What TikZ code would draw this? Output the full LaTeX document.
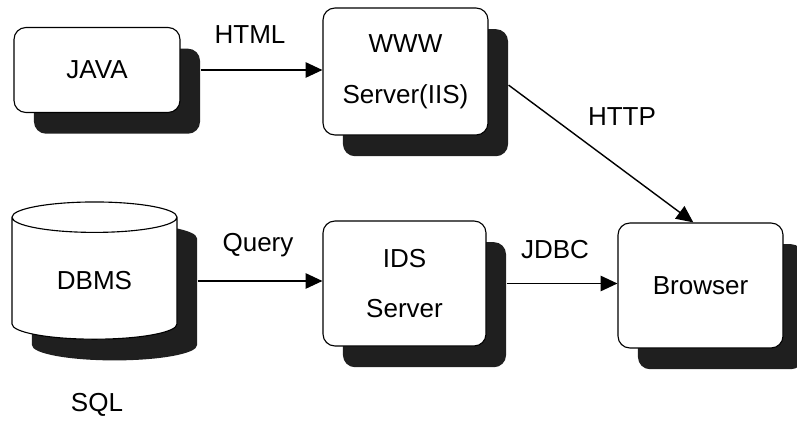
\documentclass[tikz,border=0pt]{standalone}
\usepackage{fontspec}
\setmainfont{Liberation Sans}
\usetikzlibrary{shapes.geometric,shadows,arrows.meta}
\tikzset{
  shade/.style={drop shadow={shadow xshift=0.5cm,shadow yshift=-0.53cm,fill=black!88,opacity=1}},
  block/.style={draw,fill=white,rounded corners=0.3cm,line width=0.8pt,shade,align=center,
    font=\fontsize{18.5}{36}\selectfont},
  tag/.style={font=\fontsize{18.5}{22}\selectfont},
  link/.style={-{Triangle[length=12pt,width=11pt]},line width=1pt}
}
\begin{document}
\begin{tikzpicture}[x=0.025cm,y=-0.025cm]
		\useasboundingbox (0,0) rectangle (797,426);
		% boxes
		\node[block,minimum width=4.15cm,minimum height=2.125cm] (java) at (97,70) {JAVA};
		\node[block,minimum width=4.125cm,minimum height=3.175cm] (www) at (405.5,71.5) {WWW\\Server(IIS)};
		\node[block,minimum width=4.075cm,minimum height=3.125cm] (ids) at (404.5,283.5) {IDS\\Server};
		\node[block,minimum width=4.125cm,minimum height=3.125cm] (browser) at (700.5,285.5) {Browser};
		\node[draw,fill=white,line width=0.8pt,shade,shape=cylinder,shape border rotate=90,aspect=0.36,
		  minimum width=4.125cm,minimum height=3.43cm,font=\fontsize{18.5}{22}\selectfont] (dbms) at (94.5,281) {DBMS};
		% labels
		\node[tag] (html) at (250,35) {HTML};
		\node[tag] (http) at (622,117) {HTTP};
		\node[tag] (query) at (258,245) {Query};
		\node[tag] (jdbc) at (555,250) {JDBC};
		\node[tag] (sql) at (97,405) {SQL};
		% arrows
		\draw[link] ([xshift=0.5cm]java.east) -- (java.east -| www.west);
		\draw[link] ([shift={(0.5cm,-0.34cm)}]www.east) -- ([xshift=-0.18cm]browser.north);
		\draw[link] ([xshift=0.5cm]dbms.east) -- (dbms.east -| ids.west);
		\draw[link] ([xshift=0.5cm]ids.east) -- (ids.east -| browser.west);
\end{tikzpicture}
\end{document}
